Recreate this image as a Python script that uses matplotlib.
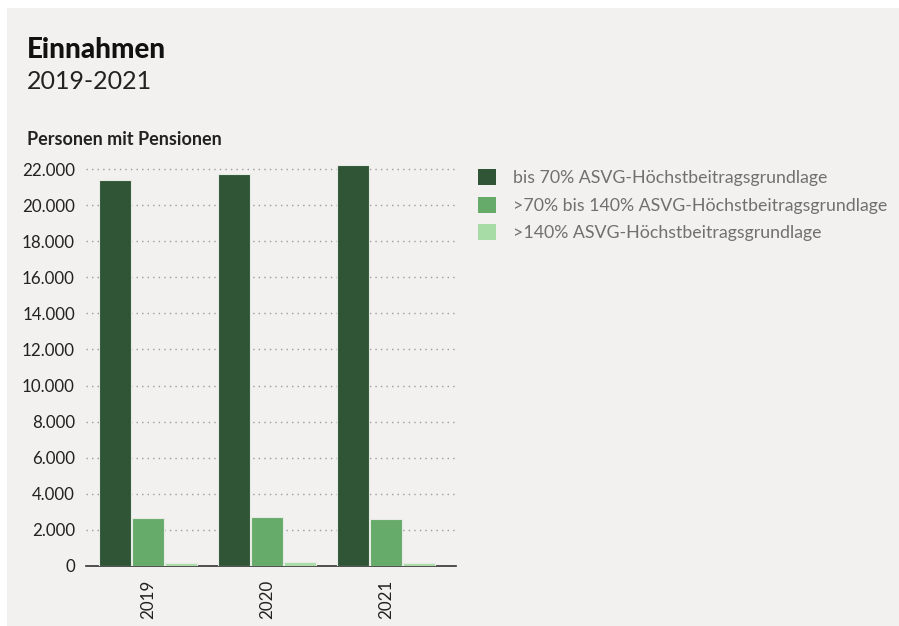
import matplotlib
matplotlib.use("Agg")
import matplotlib.pyplot as plt
from matplotlib.patches import Rectangle
import numpy as np

plt.rcParams['font.family'] = ['Lato', 'DejaVu Sans']

years = ["2019", "2020", "2021"]
series_names = [
    "bis 70% ASVG-Höchstbeitragsgrundlage",
    ">70% bis 140% ASVG-Höchstbeitragsgrundlage",
    ">140% ASVG-Höchstbeitragsgrundlage",
]
bis70 = [21400, 21700, 22250]
bis140 = [2660, 2710, 2620]
ueber140 = [180, 200, 165]
colors = ["#2f5536", "#66ab6a", "#a8dca6"]
yticks = list(range(0, 22001, 2000))
ytick_labels = ["0" if v == 0 else f"{v:,}".replace(",", ".") for v in yticks]

W, H = 899, 626
fig = plt.figure(figsize=(W / 100, H / 100), dpi=100)
fig.patch.set_facecolor("white")
fig.add_artist(Rectangle((7 / W, 0), 1 - 7 / W, 1 - 8 / H, transform=fig.transFigure,
                         facecolor="#f2f1ef", edgecolor="none", zorder=0))

ax = fig.add_axes([86 / W, 1 - 566 / H, (456 - 86) / W, (566 - 151) / H])
ax.set_facecolor("none")
x = np.arange(len(years))
width = 0.262
offsets = [-0.277, 0.0, 0.277]
for vals, off, c, name in zip([bis70, bis140, ueber140], offsets, colors, series_names):
    ax.bar(x + off, vals, width, color=c, edgecolor="#e6ebe4", linewidth=0.8, zorder=3, label=name)

ax.set_xlim(-0.521, 2.588)
ax.set_ylim(0, 23000)
ax.set_yticks(yticks)
ax.set_yticklabels(ytick_labels, fontsize=12.2, color="#222222")
ax.set_xticks(x)
ax.set_xticklabels(years, rotation=90, fontsize=12.2, color="#222222")
ax.tick_params(axis="both", length=0)
ax.tick_params(axis="y", pad=8)
ax.tick_params(axis="x", pad=10)
for s in ["top", "right", "left"]:
    ax.spines[s].set_visible(False)
ax.spines["bottom"].set_color("#333333")
ax.spines["bottom"].set_linewidth(1.2)
ax.yaxis.grid(True, linestyle=(0, (1, 3)), color="#9a9a9a", linewidth=1.0, zorder=0)
ax.set_axisbelow(True)

fig.text(27 / W, 1 - 58 / H, "Einnahmen", fontsize=20, fontweight="black", color="#111111", va="baseline")
fig.text(27 / W, 1 - 89 / H, "2019-2021", fontsize=18, color="#222222", va="baseline")
fig.text(27 / W, 1 - 145 / H, "Personen mit Pensionen", fontsize=13, fontweight="bold", color="#222222", va="baseline")

handles = [Rectangle((0, 0), 1, 1, facecolor=c, edgecolor="none") for c in colors]
leg = fig.legend(handles, series_names, loc="upper left", bbox_to_anchor=(469 / W, 1 - 160 / H),
                 frameon=False, fontsize=12.8, handlelength=1.0, handleheight=1.0,
                 labelspacing=0.6, handletextpad=1.0, borderpad=0)
for t in leg.get_texts():
    t.set_color("#707070")

fig.savefig("out.png", dpi=100, facecolor=fig.get_facecolor())
